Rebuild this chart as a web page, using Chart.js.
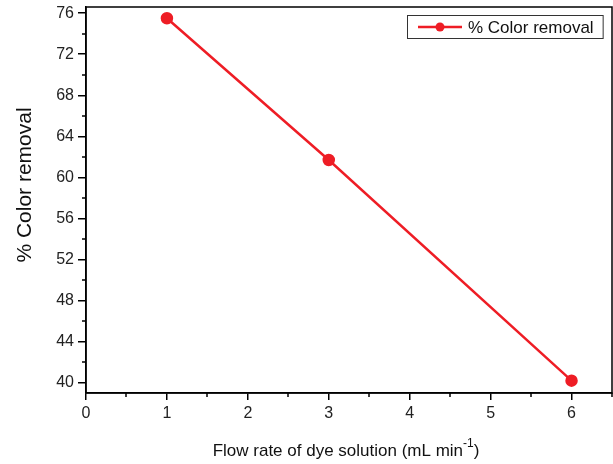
<!DOCTYPE html>
<html><head><meta charset="utf-8">
<script src="https://cdn.jsdelivr.net/npm/chart.js@4/dist/chart.umd.min.js"></script>
<style>html,body{margin:0;padding:0;background:#fff}#wrap{width:613px;height:464px}</style>
</head><body><div id="wrap"><canvas id="c" width="613" height="464"></canvas></div>
<script>
const flowRates = [1, 3, 6];
const colorRemoval = [75.5, 61.7, 40.2];
const xTickValues = [0, 1, 2, 3, 4, 5, 6];
const yTickValues = [40, 44, 48, 52, 56, 60, 64, 68, 72, 76];
const xMinorValues = [0.5, 1.5, 2.5, 3.5, 4.5, 5.5, 6.5];
const yMinorValues = [42, 46, 50, 54, 58, 62, 66, 70, 74];
const seriesLabel = '% Color removal';
const xTitleMain = 'Flow rate of dye solution (mL min';
const xTitleSup = '-1';
const xTitleEnd = ')';
const yTitle = '% Color removal';

const FONT = '"Liberation Sans", Arial, sans-serif';
const RED = '#ee1d25';

const extras = {
  id: 'extras',
  afterDraw(chart) {
    const ctx = chart.ctx;
    const a = chart.chartArea;
    const xs = chart.scales.x, ys = chart.scales.y;
    ctx.save();
    // frame
    ctx.strokeStyle = '#000';
    ctx.lineWidth = 1.5;
    ctx.strokeRect(a.left, a.top, a.right - a.left, a.bottom - a.top);
    // minor ticks
    ctx.lineWidth = 1.5;
    ctx.beginPath();
    xMinorValues.forEach(v => {
      const px = Math.round(xs.getPixelForValue(v)) ;
      ctx.moveTo(px, a.bottom); ctx.lineTo(px, a.bottom + 4);
    });
    yMinorValues.forEach(v => {
      const py = Math.round(ys.getPixelForValue(v));
      ctx.moveTo(a.left, py); ctx.lineTo(a.left - 4, py);
    });
    ctx.stroke();
    // y title
    ctx.save();
    ctx.translate(25, 185);
    ctx.rotate(-Math.PI / 2);
    ctx.fillStyle = '#111';
    ctx.font = '21px ' + FONT;
    ctx.textAlign = 'center';
    ctx.textBaseline = 'middle';
    ctx.fillText(yTitle, 0, 0);
    ctx.restore();
    // x title with superscript
    ctx.fillStyle = '#111';
    ctx.textBaseline = 'alphabetic';
    ctx.font = '17px ' + FONT;
    const w1 = ctx.measureText(xTitleMain).width;
    const w3 = ctx.measureText(xTitleEnd).width;
    ctx.font = '12px ' + FONT;
    const w2 = ctx.measureText(xTitleSup).width;
    const total = w1 + w2 + w3;
    let x0 = (a.left + a.right) / 2 - total / 2 - 3;
    const base = 456;
    ctx.font = '17px ' + FONT;
    ctx.fillText(xTitleMain, x0, base);
    ctx.font = '12px ' + FONT;
    ctx.fillText(xTitleSup, x0 + w1, base - 9);
    ctx.font = '17px ' + FONT;
    ctx.fillText(xTitleEnd, x0 + w1 + w2, base);
    // legend
    const ds = chart.data.datasets[0];
    ctx.font = '17px ' + FONT;
    const tw = ctx.measureText(ds.label).width;
    const bw = 11 + 44 + 6 + tw + 9;
    const bh = 23;
    const bx = Math.round(a.right - 9 - bw);
    const by = a.top + 8;
    ctx.strokeStyle = '#333';
    ctx.lineWidth = 1;
    ctx.strokeRect(bx + 0.5, by + 0.5, bw, bh);
    const cy = by + bh / 2 + 0.5;
    ctx.strokeStyle = ds.borderColor;
    ctx.lineWidth = 2.5;
    ctx.beginPath();
    ctx.moveTo(bx + 11, cy); ctx.lineTo(bx + 55, cy);
    ctx.stroke();
    ctx.fillStyle = ds.pointBackgroundColor;
    ctx.beginPath();
    ctx.arc(bx + 33, cy, 4.5, 0, Math.PI * 2);
    ctx.fill();
    ctx.fillStyle = '#111';
    ctx.textBaseline = 'middle';
    ctx.fillText(ds.label, bx + 61, cy + 1);
    ctx.restore();
  }
};

new Chart(document.getElementById('c'), {
  type: 'line',
  data: {
    datasets: [{
      label: seriesLabel,
      data: flowRates.map((x, i) => ({ x: x, y: colorRemoval[i] })),
      borderColor: RED,
      backgroundColor: RED,
      pointBackgroundColor: RED,
      pointBorderColor: RED,
      borderWidth: 2.5,
      pointRadius: 5,
      tension: 0,
      fill: false
    }]
  },
  options: {
    responsive: false,
    animation: false,
    devicePixelRatio: 1,
    layout: { autoPadding: false, padding: { top: 7, right: 1, left: 0, bottom: 0 } },
    plugins: { legend: { display: false }, tooltip: { enabled: false } },
    scales: {
      x: {
        type: 'linear', min: 0, max: 6.5,
        afterBuildTicks: s => { s.ticks = xTickValues.map(v => ({ value: v })); },
        afterFit: s => { s.height = 71; s.paddingLeft = 0; s.paddingRight = 0; },
        ticks: { color: '#222', font: { family: FONT, size: 16 }, padding: 4, maxRotation: 0 },
        grid: { display: true, drawOnChartArea: false, drawTicks: true, tickLength: 7, color: '#000', lineWidth: 1.5 },
        border: { display: true, color: '#000', width: 1.5 }
      },
      y: {
        type: 'linear', min: 39, max: 76.6,
        afterBuildTicks: s => { s.ticks = yTickValues.map(v => ({ value: v })); },
        afterFit: s => { s.width = 86; s.paddingTop = 0; s.paddingBottom = 0; },
        ticks: { color: '#222', font: { family: FONT, size: 16 }, padding: 4 },
        grid: { display: true, drawOnChartArea: false, drawTicks: true, tickLength: 8, color: '#000', lineWidth: 1.5 },
        border: { display: true, color: '#000', width: 1.5 }
      }
    }
  },
  plugins: [extras]
});
</script>
</body></html>
